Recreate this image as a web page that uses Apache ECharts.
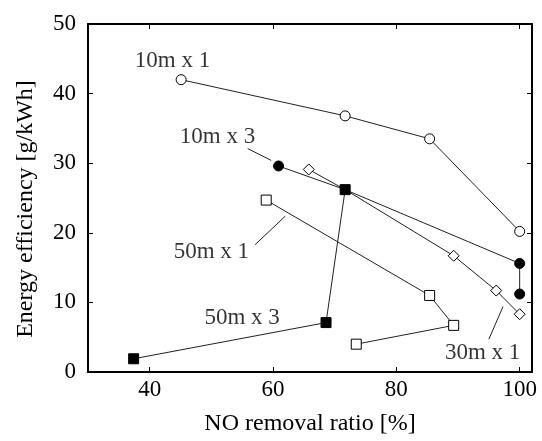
<!DOCTYPE html>
<html>
<head>
<meta charset="utf-8">
<script src="https://cdn.jsdelivr.net/npm/echarts@6/dist/echarts.min.js"></script>
<style>html,body{margin:0;padding:0;background:#fff}#c{width:542px;height:441px}</style>
</head>
<body>
<div id="c"></div>
<script>
// Data (NO removal ratio [%], Energy efficiency [g/kWh])
const s10x1 = [[45.1, 42.0], [71.7, 36.8], [85.4, 33.5], [100, 20.2]];
const s10x3 = [[60.9, 29.6], [71.7, 26.2], [100, 15.6], [100, 11.2]];
const s30x1 = [[65.8, 29.1], [71.7, 26.2], [89.3, 16.7], [96.2, 11.7], [100, 8.3]];
const s50x1 = [[58.9, 24.7], [85.4, 11.0], [89.3, 6.7], [73.5, 4.0]];
const s50x3 = [[37.4, 1.9], [68.6, 7.1], [71.7, 26.2]];
// indices of points hidden under another marker (line passes through only)
const hidden10x3 = [1];
const hidden30x1 = [1];

const xTicks = [40, 60, 80, 100];
const yTicks = [0, 10, 20, 30, 40, 50];

// Annotation labels: text and anchor in data coordinates
const labelNames = ['10m x 1', '10m x 3', '50m x 1', '50m x 3', '30m x 1'];
const labelAnchors = [[43.7, 44.7], [51.0, 33.8], [50.0, 17.2], [55.0, 7.8], [94.0, 2.7]];
// Leader lines in data coordinates
const leaders = [
  [[55.9, 32.1], [59.7, 30.4]],
  [[57.1, 18.3], [62.0, 22.4]],
  [[95.0, 4.7], [97.3, 9.4]]
];

const FONT = 'Liberation Serif';
const FS = 23;
const NAME_FS = 24;

function items(arr, hidden) {
  return arr.map((p, i) => hidden && hidden.includes(i) ? { value: p, symbol: 'none' } : { value: p });
}

const lineStyle = { color: '#222', width: 1 };
const openItem = { color: '#fff', borderColor: '#000', borderWidth: 1 };
const fillItem = { color: '#000', borderColor: '#000', borderWidth: 1 };

const frameLine = { show: true, onZero: false, lineStyle: { color: '#000', width: 2 } };
const tick = { show: true, inside: true, length: 5, lineStyle: { color: '#000', width: 1 } };

const chart = echarts.init(document.getElementById('c'), null, { renderer: 'canvas' });
chart.setOption({
  animation: false,
  backgroundColor: '#fff',
  textStyle: { fontFamily: FONT },
  grid: { left: 88, right: 10, top: 24, bottom: 63, containLabel: false },
  xAxis: [
    {
      type: 'value', position: 'bottom', min: 30, max: 102,
      name: 'NO removal ratio [%]', nameLocation: 'middle', nameGap: 40,
      nameTextStyle: { fontFamily: FONT, fontSize: NAME_FS, color: '#000' },
      axisLine: frameLine,
      axisTick: Object.assign({ customValues: xTicks }, tick),
      axisLabel: { customValues: xTicks, fontFamily: FONT, fontSize: FS, color: '#000', margin: 6 },
      splitLine: { show: false }
    },
    {
      type: 'value', position: 'top', min: 30, max: 102,
      axisLine: frameLine,
      axisTick: Object.assign({ customValues: xTicks }, tick),
      axisLabel: { show: false },
      splitLine: { show: false }
    }
  ],
  yAxis: [
    {
      type: 'value', position: 'left', min: 0, max: 50, interval: 10,
      name: 'Energy efficiency [g/kWh]', nameLocation: 'middle', nameGap: 50,
      nameTextStyle: { fontFamily: FONT, fontSize: NAME_FS, color: '#000', padding: [0, 22, 0, 0] },
      axisLine: frameLine,
      axisTick: tick,
      axisLabel: { fontFamily: FONT, fontSize: FS, color: '#000', margin: 12 },
      splitLine: { show: false }
    },
    {
      type: 'value', position: 'right', min: 0, max: 50, interval: 10,
      axisLine: frameLine,
      axisTick: tick,
      axisLabel: { show: false },
      splitLine: { show: false }
    }
  ],
  series: [
    {
      type: 'line', name: '10m x 1', data: items(s10x1), symbol: 'circle', symbolSize: 10,
      lineStyle: lineStyle, itemStyle: openItem, z: 2
    },
    {
      type: 'line', name: '10m x 3', data: items(s10x3, hidden10x3), symbol: 'circle', symbolSize: 10,
      lineStyle: lineStyle, itemStyle: fillItem, z: 2
    },
    {
      type: 'line', name: '30m x 1', data: items(s30x1, hidden30x1), symbol: 'diamond', symbolSize: [11, 11],
      lineStyle: lineStyle, itemStyle: openItem, z: 2
    },
    {
      type: 'line', name: '50m x 1', data: items(s50x1), symbol: 'rect', symbolSize: 10,
      lineStyle: lineStyle, itemStyle: openItem, z: 2
    },
    {
      type: 'line', name: '50m x 3', data: items(s50x3), symbol: 'rect', symbolSize: 10,
      lineStyle: lineStyle, itemStyle: fillItem, z: 3
    },
    {
      type: 'scatter', name: 'labels', symbolSize: 0, silent: true, z: 4,
      data: labelNames.map((n, i) => ({ name: n, value: labelAnchors[i] })),
      label: {
        show: true, position: 'inside', formatter: p => p.name,
        fontFamily: FONT, fontSize: FS, color: '#000'
      },
      markLine: {
        silent: true, symbol: ['none', 'none'],
        lineStyle: { color: '#222', width: 1, type: 'solid' },
        label: { show: false },
        data: leaders.map(l => [{ coord: l[0] }, { coord: l[1] }])
      }
    }
  ]
});
</script>
</body>
</html>
